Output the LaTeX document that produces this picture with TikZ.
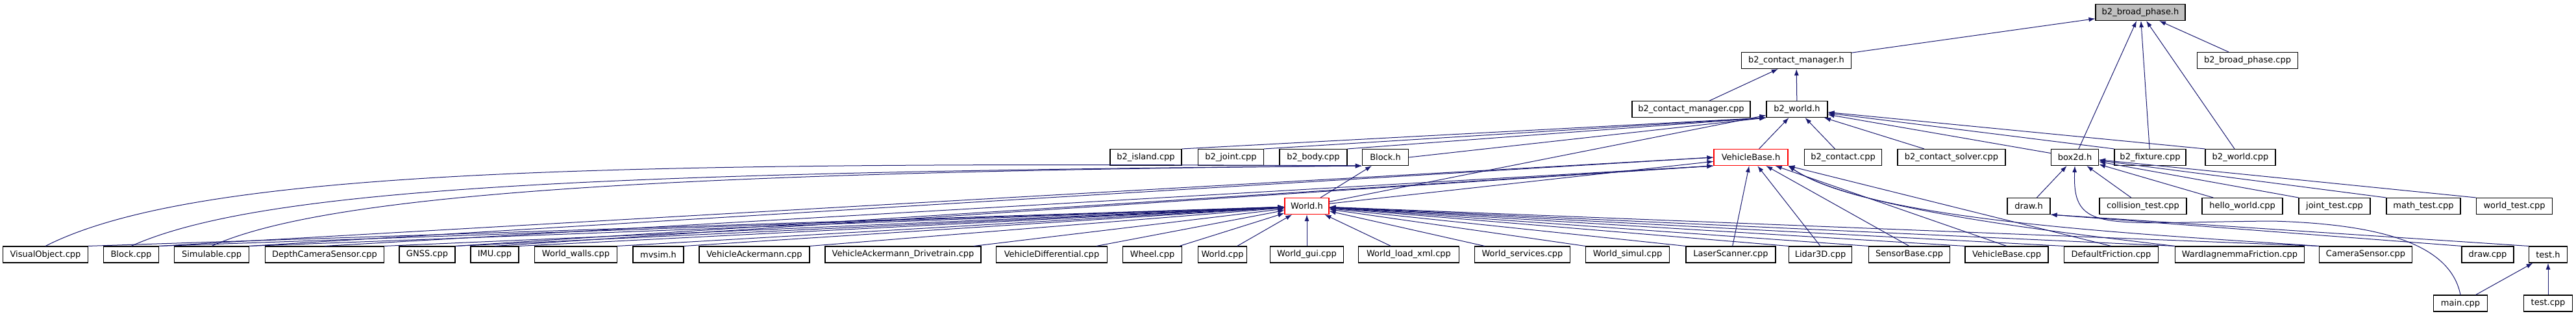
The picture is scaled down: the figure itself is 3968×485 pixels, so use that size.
\documentclass[tikz,border=0pt]{standalone}
\usepackage{fontspec}
\setmainfont{DejaVu Sans}
\usetikzlibrary{arrows.meta}
\definecolor{edgeblue}{HTML}{191970}

\begin{document}
\begin{tikzpicture}[x=1pt, y=-1pt,
        file/.style={draw=black, fill=white, line width=1.1pt, minimum height=25pt, inner sep=0pt, font=\fontsize{13}{15}\selectfont},
        redfile/.style={file, draw=red},
        rootfile/.style={file, fill=gray!50},
        dep/.style={edgeblue, line width=1pt, -{Latex[length=10pt,width=7pt]}}]
        \useasboundingbox (0,0) rectangle (3968,485);

        \node[rootfile, minimum width=138] (bpH) at (3297,19) {b2\_broad\_phase.h};

        \node[file, minimum width=169] (cmH) at (2767,93) {b2\_contact\_manager.h};
        \node[file, minimum width=155] (bpCpp) at (3462,93) {b2\_broad\_phase.cpp};

        \node[file, minimum width=182] (cmCpp) at (2605,168) {b2\_contact\_manager.cpp};
        \node[file, minimum width=94] (worldH) at (2768,168) {b2\_world.h};

        \node[file, minimum width=110] (islandCpp) at (1765,242) {b2\_island.cpp};
        \node[file, minimum width=101] (jointCpp) at (1896,242) {b2\_joint.cpp};
        \node[file, minimum width=104] (bodyCpp) at (2023,242) {b2\_body.cpp};
        \node[file, minimum width=71] (blockH) at (2134,242) {Block.h};
        \node[redfile, minimum width=114] (vehH) at (2697,242) {VehicleBase.h};
        \node[file, minimum width=119] (contactCpp) at (2839,242) {b2\_contact.cpp};
        \node[file, minimum width=166] (solverCpp) at (3006,242) {b2\_contact\_solver.cpp};
        \node[file, minimum width=73] (boxH) at (3196,242) {box2d.h};
        \node[file, minimum width=110] (fixtureCpp) at (3312,242) {b2\_fixture.cpp};
        \node[file, minimum width=108] (worldCpp) at (3451,242) {b2\_world.cpp};

        \node[redfile, minimum width=68] (mWorldH) at (2013,317) {World.h};
        \node[file, minimum width=66] (drawH) at (3125,317) {draw.h};
        \node[file, minimum width=134] (collTest) at (3301,317) {collision\_test.cpp};
        \node[file, minimum width=124] (helloWorld) at (3454,317) {hello\_world.cpp};
        \node[file, minimum width=110] (jointTest) at (3596,317) {joint\_test.cpp};
        \node[file, minimum width=114] (mathTest) at (3733,317) {math\_test.cpp};
        \node[file, minimum width=117] (worldTest) at (3873,317) {world\_test.cpp};

        \node[file, minimum width=131] (visObj) at (70,391.5) {VisualObject.cpp};
        \node[file, minimum width=85] (blockCpp) at (202,391.5) {Block.cpp};
        \node[file, minimum width=115] (simCpp) at (326,391.5) {Simulable.cpp};
        \node[file, minimum width=183] (depthCam) at (500,391.5) {DepthCameraSensor.cpp};
        \node[file, minimum width=86] (gnss) at (658,391.5) {GNSS.cpp};
        \node[file, minimum width=74] (imu) at (762,391.5) {IMU.cpp};
        \node[file, minimum width=127] (wWalls) at (887,391.5) {World\_walls.cpp};
        \node[file, minimum width=78] (mvsimH) at (1014,391.5) {mvsim.h};
        \node[file, minimum width=170] (vAck) at (1162,391.5) {VehicleAckermann.cpp};
        \node[file, minimum width=240] (vAckDt) at (1391,391.5) {VehicleAckermann\_Drivetrain.cpp};
        \node[file, minimum width=171] (vDiff) at (1620,391.5) {VehicleDifferential.cpp};
        \node[file, minimum width=91] (wheel) at (1775,391.5) {Wheel.cpp};
        \node[file, minimum width=75] (mWorldCpp) at (1883,391.5) {World.cpp};
        \node[file, minimum width=113] (wGui) at (2013,391.5) {World\_gui.cpp};
        \node[file, minimum width=155] (wXml) at (2170,391.5) {World\_load\_xml.cpp};
        \node[file, minimum width=147] (wServ) at (2345,391.5) {World\_services.cpp};
        \node[file, minimum width=129] (wSimul) at (2507,391.5) {World\_simul.cpp};
        \node[file, minimum width=138] (laser) at (2666,391.5) {LaserScanner.cpp};
        \node[file, minimum width=97] (lidar) at (2804,391.5) {Lidar3D.cpp};
        \node[file, minimum width=125] (sensor) at (2941,391.5) {SensorBase.cpp};
        \node[file, minimum width=128] (vBaseCpp) at (3091,391.5) {VehicleBase.cpp};
        \node[file, minimum width=145] (defFric) at (3252,391.5) {DefaultFriction.cpp};
        \node[file, minimum width=199] (wardFric) at (3450,391.5) {WardIagnemmaFriction.cpp};
        \node[file, minimum width=143] (camSensor) at (3644,391.5) {CameraSensor.cpp};
        \node[file, minimum width=80] (drawCpp) at (3832,391.5) {draw.cpp};
        \node[file, minimum width=59] (testH) at (3925,391.5) {test.h};

        \node[file, minimum width=83] (mainCpp) at (3790,466.5) {main.cpp};
        \node[file, minimum width=75] (testCpp) at (3925,466.5) {test.cpp};

        \draw[dep] (cmH) -- (bpH);
        \draw[dep] (bpCpp) -- (bpH);
        \draw[dep] (boxH) -- (bpH);
        \draw[dep] (fixtureCpp) -- (bpH);
        \draw[dep] (worldCpp) -- (bpH);

        \draw[dep] (cmCpp) -- (cmH);
        \draw[dep] (worldH) -- (cmH);

        \draw[dep] (islandCpp.north east) -- (worldH.south west);
        \draw[dep] (jointCpp.north east) -- (worldH.south west);
        \draw[dep] (bodyCpp.north east) -- (worldH.south west);
        \draw[dep] (blockH.east) -- (worldH.south west);
        \draw[dep] (mWorldH) -- (worldH);
        \draw[dep] (vehH) -- (worldH);
        \draw[dep] (contactCpp) -- (worldH);
        \draw[dep] (solverCpp) -- (worldH);
        \draw[dep] (boxH) -- (worldH);
        \draw[dep] (fixtureCpp.north west) -- (worldH);
        \draw[dep] (worldCpp.north west) -- (worldH);

        \draw[dep] (visObj.north) .. controls (300,262) and (900,248) .. (blockH.south west);
        \draw[dep] (blockCpp.north) .. controls (400,290) and (900,265) .. (blockH.south west);
        \draw[dep] (simCpp.north) .. controls (500,300) and (1000,265) .. (blockH.south west);
        \draw[dep] (mWorldH) -- (blockH);

        \draw[dep] (blockCpp.north east) -- (vehH.west);
        \draw[dep] (simCpp.north east) -- (vehH.west);
        \draw[dep] (depthCam.north) -- (vehH.south west);
        \draw[dep] (gnss.north east) -- (vehH.south west);
        \draw[dep] (imu.north) -- (vehH.south west);
        \draw[dep] (mWorldH) -- (vehH);
        \draw[dep] (laser) -- (vehH);
        \draw[dep] (lidar.north) -- (vehH);
        \draw[dep] (sensor.north) -- (vehH);
        \draw[dep] (vBaseCpp.north) -- (vehH);
        \draw[dep] (defFric.north) -- (vehH.south east);
        \draw[dep] (wardFric.north west) .. controls (3150,355) and (2850,320) .. (vehH.south east);
        \draw[dep] (camSensor.north west) .. controls (3300,360) and (2880,340) .. (vehH.south east);

        \draw[dep] (visObj.north east) -- (mWorldH);
        \draw[dep] (blockCpp.north east) -- (mWorldH);
        \draw[dep] (simCpp.north east) -- (mWorldH);
        \draw[dep] (depthCam.north east) -- (mWorldH);
        \draw[dep] (gnss.north east) -- (mWorldH);
        \draw[dep] (imu.north east) -- (mWorldH);
        \draw[dep] (wWalls.north east) -- (mWorldH);
        \draw[dep] (mvsimH.north east) -- (mWorldH);
        \draw[dep] (vAck.north east) -- (mWorldH);
        \draw[dep] (vAckDt) -- (mWorldH);
        \draw[dep] (vDiff) -- (mWorldH);
        \draw[dep] (wheel) -- (mWorldH);
        \draw[dep] (mWorldCpp) -- (mWorldH);
        \draw[dep] (wGui) -- (mWorldH);
        \draw[dep] (wXml) -- (mWorldH);
        \draw[dep] (wServ) -- (mWorldH);
        \draw[dep] (wSimul.north west) -- (mWorldH);
        \draw[dep] (laser.north west) -- (mWorldH);
        \draw[dep] (lidar.north west) -- (mWorldH);
        \draw[dep] (sensor.north west) -- (mWorldH);
        \draw[dep] (vBaseCpp.north west) -- (mWorldH);
        \draw[dep] (defFric.north west) -- (mWorldH);
        \draw[dep] (wardFric.north west) -- (mWorldH);
        \draw[dep] (camSensor.north west) -- (mWorldH);

        \draw[dep] (drawH) -- (boxH);
        \draw[dep] (collTest) -- (boxH);
        \draw[dep] (helloWorld) -- (boxH);
        \draw[dep] (jointTest.north west) -- (boxH);
        \draw[dep] (mathTest.north west) -- (boxH);
        \draw[dep] (worldTest.north west) -- (boxH);
        \draw[dep] (mainCpp.north) .. controls (3775,380) and (3680,345) .. (3500,340)
            .. controls (3240,342) and (3192,360) .. (boxH.south);

        \draw[dep] (drawCpp.north west) -- (drawH.south east);
        \draw[dep] (testH.north west) -- (drawH.south east);

        \draw[dep] (mainCpp) -- (testH);
        \draw[dep] (testCpp) -- (testH);
\end{tikzpicture}
\end{document}
